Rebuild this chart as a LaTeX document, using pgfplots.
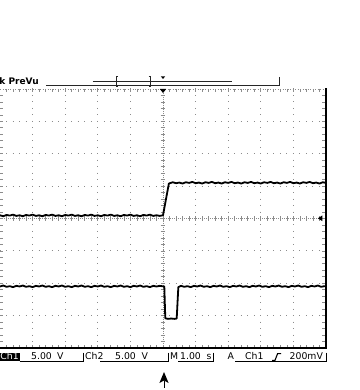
\documentclass[border=0pt]{standalone}
\usepackage{fontspec}
\setmainfont{DejaVu Sans}
\usepackage{pgfplots}
\pgfplotsset{compat=1.18}
\begin{document}
\begin{tikzpicture}
\begin{scope}[x=1pt,y=-1pt]
\useasboundingbox (0,0) rectangle (359,390);
% dotted graticule
\begin{scope}[black!45, line width=1pt]
\foreach \k in {1,2,3,4,6,7,8,9} {\draw[dash pattern=on 1pt off 5.475pt] ({32.6*\k},88.5) -- ({32.6*\k},348);}
\foreach \k in {1,2,3,5,6,7} {\draw[dash pattern=on 1pt off 5.52pt] (-0.5,{89+32.375*\k}) -- (326,{89+32.375*\k});}
\end{scope}
% centre axes with ticks
\begin{scope}[black!45, line width=0.7pt]
\draw[dash pattern=on 1pt off 1pt] (163,89) -- (163,348);
\draw[dash pattern=on 1pt off 1pt] (0,218.5) -- (326,218.5);
\foreach \j in {1,...,39} {\draw (160.6,{89+6.475*\j}) -- (165.4,{89+6.475*\j});}
\foreach \j in {1,...,49} {\draw ({6.52*\j},216.1) -- ({6.52*\j},220.9);}
% border ticks
\draw[dash pattern=on 1pt off 1.5pt] (0,89.5) -- (326,89.5);
\foreach \j in {1,...,49} {\draw ({6.52*\j},89) -- ({6.52*\j},92);}
\foreach \j in {1,...,49} {\draw ({6.52*\j},348) -- ({6.52*\j},345);}
\foreach \j in {1,...,39} {\draw (0,{89+6.475*\j}) -- (3,{89+6.475*\j});}
\foreach \j in {1,...,39} {\draw (325,{89+6.475*\j}) -- (322,{89+6.475*\j});}
\end{scope}
% borders
\draw[black, line width=1.6pt] (0,348) -- (327,348);
\draw[black, line width=2.6pt] (326,88.5) -- (326,349);
% trigger markers
\fill[black] (159.8,89) -- (166.2,89) -- (163,93) -- cycle;
\fill[black] (317.8,218.3) -- (322.4,215.4) -- (322.4,221.2) -- cycle;
% top status bar
\node[anchor=base west, inner sep=0pt, font=\fontsize{9}{10}\selectfont\bfseries] at (-0.8,85) {k PreVu};
\begin{scope}[black!85, line width=0.8pt]
\draw (46,85.5) -- (279,85.5);
\draw (279,77) -- (279,85.9);
\draw (92.7,81.3) -- (232,81.3);
\draw (118,76) -- (116.5,76) -- (116.5,86) -- (118,86);
\draw (148.5,76) -- (150,76) -- (150,86) -- (148.5,86);
\end{scope}
\fill[black] (160.8,76.3) -- (165.2,76.3) -- (163,79) -- cycle;
% bottom status line
\fill[black] (0,352.6) rectangle (19.5,360.8);
\begin{scope}[every node/.style={anchor=base west, inner sep=0pt, font=\fontsize{9.3}{10}\selectfont}]
\node[text=white] at (0.3,359.6) {Ch1};
\node at (31,359.6) {5.00};
\node at (57,359.6) {V};
\node at (85,359.6) {Ch2};
\node at (115,359.6) {5.00};
\node at (141.5,359.6) {V};
\node at (170,359.6) {M};
\node at (180,359.6) {1.00};
\node at (206.5,359.6) {s};
\node at (227.5,359.6) {A};
\node at (245,359.6) {Ch1};
\node at (289.5,359.6) {200mV};
\end{scope}
\begin{scope}[black, line width=0.7pt]
\draw (19.5,361.6) -- (83,361.6);
\draw (83,352.5) -- (83,362);
\draw (100,361.6) -- (168,361.6);
\draw (168,352.5) -- (168,362);
\draw (178,361.6) -- (213,361.6);
\draw (213,352.5) -- (213,362);
\draw (235,361.6) -- (326,361.6);
\draw (326,352.5) -- (326,362);
\draw[line width=1.1pt] (272,360.3) -- (275,360.3) -- (277.6,353.6) -- (281,353.6);
\end{scope}
% trigger position arrow
\fill[black] (164,372) -- (168.6,383) -- (164,380.5) -- (159.4,383) -- cycle;
\draw[black, line width=1pt] (164,380.5) -- (164,387.5);
\end{scope}
% traces
\begin{axis}[at={(0pt,-348pt)}, anchor=south west, scale only axis,
  width=326pt, height=259pt, xmin=-5, xmax=5, ymin=-4, ymax=4,
  hide axis, clip=true]
\addplot[black, line width=1.8pt, line join=round] coordinates {
(-5.0,0.10) (-4.9,0.07) (-4.8,0.11) (-4.7,0.09) (-4.6,0.12) (-4.5,0.08) (-4.4,0.10) (-4.3,0.07)
(-4.2,0.11) (-4.1,0.09) (-4.0,0.12) (-3.9,0.08) (-3.8,0.10) (-3.7,0.07) (-3.6,0.11) (-3.5,0.09)
(-3.4,0.12) (-3.3,0.08) (-3.2,0.10) (-3.1,0.07) (-3.0,0.11) (-2.9,0.09) (-2.8,0.12) (-2.7,0.08)
(-2.6,0.10) (-2.5,0.07) (-2.4,0.11) (-2.3,0.09) (-2.2,0.12) (-2.1,0.08) (-2.0,0.10) (-1.9,0.07)
(-1.8,0.11) (-1.7,0.09) (-1.6,0.12) (-1.5,0.08) (-1.4,0.10) (-1.3,0.07) (-1.2,0.11) (-1.1,0.09)
(-1.0,0.12) (-0.9,0.08) (-0.8,0.10) (-0.7,0.07) (-0.6,0.11) (-0.5,0.09) (-0.4,0.12) (-0.3,0.08)
(-0.2,0.10) (-0.1,0.08) (0.0,0.10) (0.18,1.08) (0.3,1.12) (0.4,1.09) (0.5,1.11) (0.6,1.08)
(0.7,1.12) (0.8,1.10) (0.9,1.13) (1.0,1.09) (1.1,1.11) (1.2,1.08) (1.3,1.12) (1.4,1.10)
(1.5,1.13) (1.6,1.09) (1.7,1.11) (1.8,1.08) (1.9,1.12) (2.0,1.10) (2.1,1.13) (2.2,1.09)
(2.3,1.11) (2.4,1.08) (2.5,1.12) (2.6,1.10) (2.7,1.13) (2.8,1.09) (2.9,1.11) (3.0,1.08)
(3.1,1.12) (3.2,1.10) (3.3,1.13) (3.4,1.09) (3.5,1.11) (3.6,1.08) (3.7,1.12) (3.8,1.10)
(3.9,1.13) (4.0,1.09) (4.1,1.11) (4.2,1.08) (4.3,1.12) (4.4,1.10) (4.5,1.13) (4.6,1.09)
(4.7,1.11) (4.8,1.08) (4.9,1.12) (5.0,1.10)};
\addplot[black, line width=1.8pt, line join=round] coordinates {
(-5.0,-2.10) (-4.9,-2.07) (-4.8,-2.11) (-4.7,-2.09) (-4.6,-2.12) (-4.5,-2.08) (-4.4,-2.10) (-4.3,-2.07)
(-4.2,-2.11) (-4.1,-2.09) (-4.0,-2.12) (-3.9,-2.08) (-3.8,-2.10) (-3.7,-2.07) (-3.6,-2.11) (-3.5,-2.09)
(-3.4,-2.12) (-3.3,-2.08) (-3.2,-2.10) (-3.1,-2.07) (-3.0,-2.11) (-2.9,-2.09) (-2.8,-2.12) (-2.7,-2.08)
(-2.6,-2.10) (-2.5,-2.07) (-2.4,-2.11) (-2.3,-2.09) (-2.2,-2.12) (-2.1,-2.08) (-2.0,-2.10) (-1.9,-2.07)
(-1.8,-2.11) (-1.7,-2.09) (-1.6,-2.12) (-1.5,-2.08) (-1.4,-2.10) (-1.3,-2.07) (-1.2,-2.11) (-1.1,-2.09)
(-1.0,-2.12) (-0.9,-2.08) (-0.8,-2.10) (-0.7,-2.07) (-0.6,-2.11) (-0.5,-2.09) (-0.4,-2.12) (-0.3,-2.08)
(-0.2,-2.10) (-0.1,-2.08) (0.04,-2.10) (0.07,-3.08) (0.15,-3.10) (0.25,-3.09) (0.35,-3.10) (0.42,-3.09)
(0.47,-2.12) (0.55,-2.08) (0.65,-2.11) (0.75,-2.09) (0.85,-2.12) (0.95,-2.08) (1.05,-2.10) (1.15,-2.07)
(1.25,-2.11) (1.35,-2.09) (1.45,-2.12) (1.55,-2.08) (1.65,-2.10) (1.75,-2.07) (1.85,-2.11) (1.95,-2.09)
(2.05,-2.12) (2.15,-2.08) (2.25,-2.10) (2.35,-2.07) (2.45,-2.11) (2.55,-2.09) (2.65,-2.12) (2.75,-2.08)
(2.85,-2.10) (2.95,-2.07) (3.05,-2.11) (3.15,-2.09) (3.25,-2.12) (3.35,-2.08) (3.45,-2.10) (3.55,-2.07)
(3.65,-2.11) (3.75,-2.09) (3.85,-2.12) (3.95,-2.08) (4.05,-2.10) (4.15,-2.07) (4.25,-2.11) (4.35,-2.09)
(4.45,-2.12) (4.55,-2.08) (4.65,-2.10) (4.75,-2.07) (4.85,-2.11) (4.95,-2.09) (5.0,-2.10)};
\end{axis}
\end{tikzpicture}
\end{document}
